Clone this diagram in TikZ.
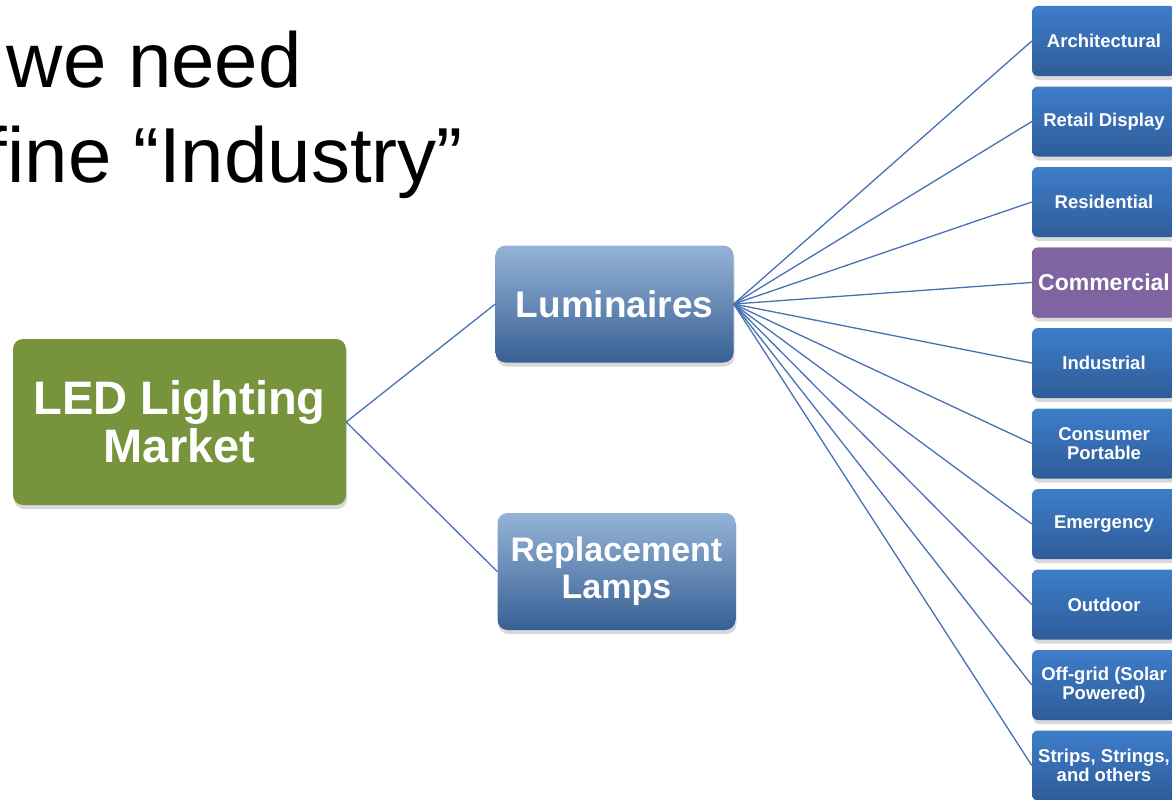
\documentclass[tikz,border=0pt]{standalone}
\usepackage{fontspec}
\setmainfont{Liberation Sans}
\usepackage{tikz}
\usetikzlibrary{shadows,positioning}
\definecolor{ledgreen}{RGB}{119,147,60}
\definecolor{midtop}{RGB}{149,179,215}
\definecolor{midbot}{RGB}{56,96,148}
\definecolor{segtop}{RGB}{62,125,202}
\definecolor{segbot}{RGB}{47,92,152}
\definecolor{hotpurple}{RGB}{128,100,162}
\definecolor{linkblue}{RGB}{70,114,178}
\tikzset{
  box/.style={rounded corners=10pt, text=white, align=center, inner sep=2pt,
    drop shadow={opacity=0.3, shadow xshift=1pt, shadow yshift=-4pt}},
  rootbox/.style={box, fill=ledgreen, minimum width=333pt, minimum height=166pt,
    font=\bfseries\fontsize{47}{48}\selectfont},
  midbox/.style={box, top color=midtop, bottom color=midbot, minimum width=238pt,
    minimum height=117pt},
  segbox/.style={box, rounded corners=6pt, top color=segtop, bottom color=segbot,
    minimum width=144pt, minimum height=70pt, font=\bfseries\fontsize{18.5}{19}\selectfont},
  hotbox/.style={segbox, fill=hotpurple, top color=hotpurple, bottom color=hotpurple,
    font=\bfseries\fontsize{23}{24}\selectfont},
  link/.style={draw=linkblue, line width=1.3pt},
  heading/.style={inner sep=0pt, font=\fontsize{78}{94}\selectfont}
}
\begin{document}
\begin{tikzpicture}[x=1pt,y=-1pt]
        % Fix the page size
        \useasboundingbox (0,0) rectangle (1172,800);

        % Heading (cut at the left edge)
        \node[heading, anchor=base east] (head1) at (302,87) {we need};
        \node[heading, anchor=base east] (head2) at (463,182) {fine “Industry”};

        % Root and the two branches
        \node[rootbox] (market) at (179.5,422) {LED Lighting\\Market};
        \node[midbox, font=\bfseries\fontsize{37}{38}\selectfont] (lum) at (614.5,304) {Luminaires};
        \node[midbox, font=\bfseries\fontsize{34}{37}\selectfont] (lamps) at (616.5,571.5) {Replacement\\Lamps};

        \draw[link] (market.east) -- (lum.west);
        \draw[link] (market.east) -- (lamps.west);

        % Segments of the luminaires branch
        \foreach \lbl/\sty [count=\i] in {Architectural/segbox, Retail Display/segbox,
            Residential/segbox, Commercial/hotbox, Industrial/segbox,
            Consumer\\Portable/segbox, Emergency/segbox, Outdoor/segbox,
            Off-grid (Solar\\Powered)/segbox, {Strips, Strings,\\and others}/segbox} {
            \node[\sty] (seg\i) at (1104,{41+80.5*(\i-1)}) {\lbl};
            \draw[link] (lum.east) -- (seg\i.west);
        }
    \end{tikzpicture}
\end{document}
